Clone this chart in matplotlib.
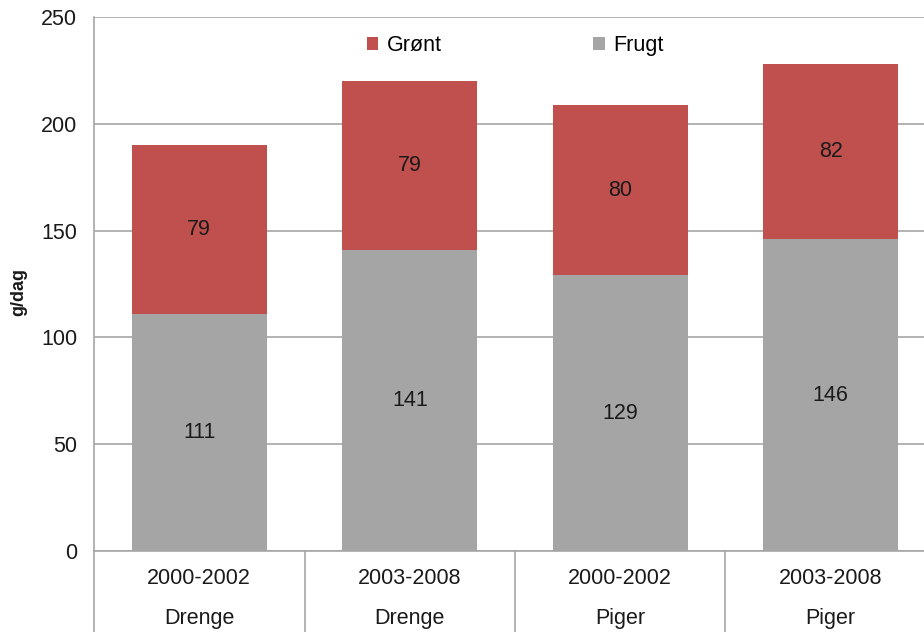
import matplotlib.pyplot as plt

periods = ["2000-2002", "2003-2008", "2000-2002", "2003-2008"]
groups = ["Drenge", "Drenge", "Piger", "Piger"]
frugt = [111, 141, 129, 146]
groent = [79, 79, 80, 82]

plt.rcParams['font.family'] = ['Liberation Sans', 'DejaVu Sans']

W, H = 924, 632
fig = plt.figure(figsize=(W / 100, H / 100), dpi=100)
left, top, bottom = 94, 17, 551
cat_w = 210.5
right = left + 4 * cat_w
ax = fig.add_axes([left / W, 1 - bottom / H, (right - left) / W, (bottom - top) / H])

fs = 15.5
txt_c = "#1a1a1a"
grid_c = "#A6A6A6"
x = list(range(len(frugt)))
ax.bar(x, frugt, width=0.64, color="#A5A5A5", label="Frugt", zorder=2)
ax.bar(x, groent, width=0.64, bottom=frugt, color="#C0504D", label="Grønt", zorder=2)

for i in x:
    ax.text(i, frugt[i] / 2, str(frugt[i]), ha="center", va="center", fontsize=fs, color=txt_c, zorder=3)
    ax.text(i, frugt[i] + groent[i] / 2, str(groent[i]), ha="center", va="center", fontsize=fs, color=txt_c, zorder=3)

ax.set_xlim(-0.5, 3.5)
ax.set_ylim(0, 250)
ax.set_yticks([0, 50, 100, 150, 200, 250])
ax.yaxis.grid(True, color=grid_c, linewidth=1.2, zorder=0)
ax.tick_params(axis="y", length=0, pad=12, labelsize=fs, labelcolor=txt_c)
ax.set_xticks([])
for s in ["top", "right"]:
    ax.spines[s].set_visible(False)
ax.spines["left"].set_color(grid_c)
ax.spines["left"].set_linewidth(1.2)
ax.spines["bottom"].set_color(grid_c)
ax.spines["bottom"].set_linewidth(1.2)
ax.set_ylabel("g/dag", fontsize=13, fontweight="bold", color=txt_c)
ax.yaxis.set_label_coords(-(left - 27) / (right - left), 0.485)

# two-level category labels
trans = ax.get_xaxis_transform()
for i in range(len(periods) + 1):
    ax.plot([i - 0.5, i - 0.5], [0, -0.17], transform=trans, color=grid_c, linewidth=1.2, clip_on=False)
for i in x:
    ax.text(i, -0.052, periods[i], transform=trans, ha="center", va="center", fontsize=fs, color=txt_c)
    ax.text(i, -0.127, groups[i], transform=trans, ha="center", va="center", fontsize=fs, color=txt_c)

h, l = ax.get_legend_handles_labels()
ax.legend(h[::-1], l[::-1], loc="upper center", bbox_to_anchor=((515 - left) / (right - left), 1.002),
          ncol=2, frameon=False, fontsize=fs, handlelength=0.55, handleheight=0.55,
          columnspacing=7.0, handletextpad=0.4)

fig.savefig("out.png", dpi=100)
